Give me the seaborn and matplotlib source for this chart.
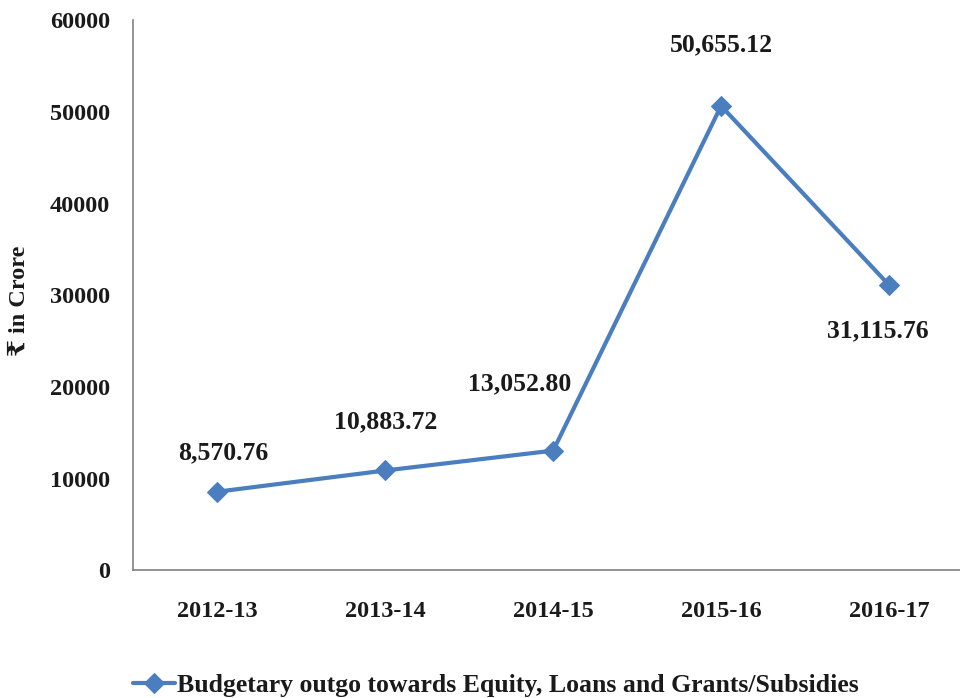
import matplotlib
matplotlib.use("Agg")
import matplotlib.pyplot as plt
import seaborn as sns
import pandas as pd

years = ["2012-13", "2013-14", "2014-15", "2015-16", "2016-17"]
values = [8570.76, 10883.72, 13052.80, 50655.12, 31115.76]
labels = ["8,570.76", "10,883.72", "13,052.80", "50,655.12", "31,115.76"]
series_name = "Budgetary outgo towards Equity, Loans and Grants/Subsidies"

sns.set_style("white")
plt.rcParams['font.family'] = ['Liberation Serif', 'DejaVu Serif', 'DejaVu Sans']
plt.rcParams['font.weight'] = 'bold'

df = pd.DataFrame({"year": years, "value": values, "series": series_name})

fig = plt.figure(figsize=(9.6, 6.98), dpi=100)
ax = fig.add_axes([0.139, 0.183, 0.8745, 0.788])
color = "#4a7ebf"
sns.lineplot(data=df, x="year", y="value", hue="series", palette=[color],
             marker="D", markersize=10.5, linewidth=3, markeredgecolor=color,
             sort=False, ax=ax)

ax.set_ylim(0, 60000)
ax.set_xlim(-0.5, 4.5)
ax.set_yticks(range(0, 60001, 10000))
ax.tick_params(axis='both', length=0, labelsize=17.5, colors='#1a1a1a')
ax.tick_params(axis='x', pad=22)
ax.tick_params(axis='y', pad=17)
for t in ax.get_xticklabels() + ax.get_yticklabels():
    t.set_fontweight('bold')
ax.set_xlabel("")
ax.set_ylabel("₹ in Crore", fontsize=17.5, fontweight='bold', color='#1a1a1a')
ax.yaxis.set_label_coords(-0.124, 0.49)

for s in ["top", "right"]:
    ax.spines[s].set_visible(False)
for s in ["left", "bottom"]:
    ax.spines[s].set_color("#808080")
    ax.spines[s].set_linewidth(1.2)

offsets = [(4, 28), (0, 35), (-24, 48), (0, 44), (-8, -33)]
for i, (v, lab) in enumerate(zip(values, labels)):
    ax.annotate(lab, (i, v), xytext=offsets[i], textcoords="offset points",
                ha="center", va="center", fontsize=18.5, fontweight='bold', color='#1a1a1a')

leg = ax.legend(loc="center", bbox_to_anchor=(0.432, -0.209), frameon=False,
                handlelength=1.6, handletextpad=0.1, borderpad=0,
                prop={'weight': 'bold', 'size': 18.5})
for t in leg.get_texts():
    t.set_color('#1a1a1a')

fig.savefig("out.png", dpi=100)
